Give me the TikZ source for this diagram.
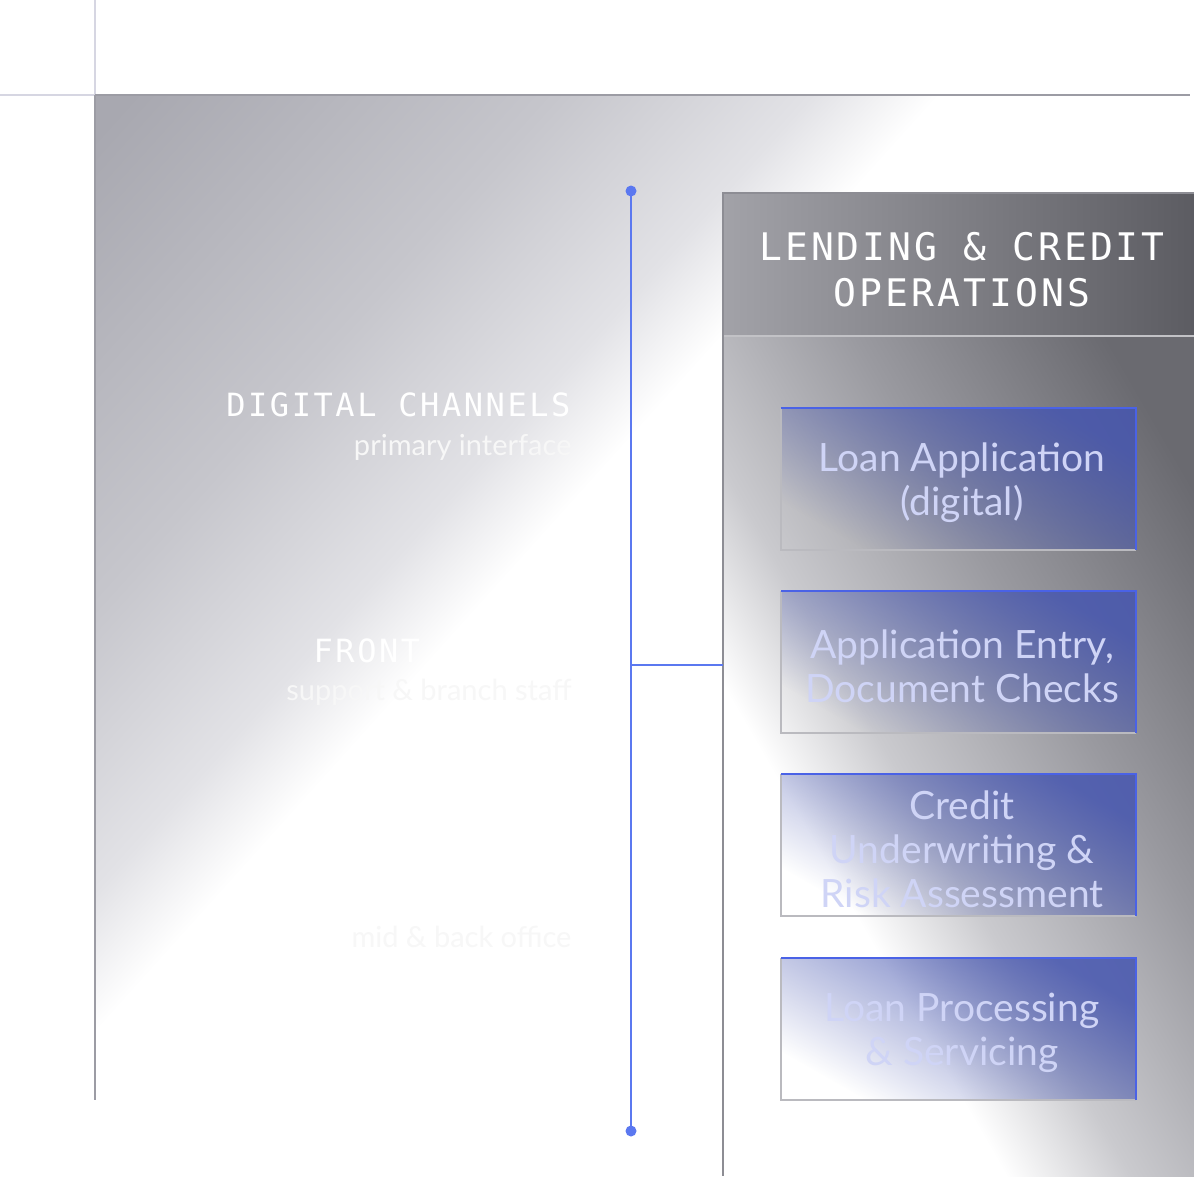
\documentclass[tikz,border=0pt]{standalone}
\usepackage{fontspec}
\setmainfont{Lato}
\newfontfamily\hdrfont[LetterSpace=8]{DejaVu Sans Mono}
\newfontfamily\lblfont[LetterSpace=8]{DejaVu Sans Mono}
\usetikzlibrary{fadings}
\definecolor{pgA}{HTML}{A8A8B0}
\definecolor{pgB}{HTML}{C6C6CC}
\definecolor{pgC}{HTML}{E2E2E6}
\definecolor{hdL}{HTML}{A2A2A8}
\definecolor{hdR}{HTML}{5C5C62}
\definecolor{bdA}{HTML}{6A6A70}
\definecolor{bdB}{HTML}{9A9AA0}
\definecolor{bdC}{HTML}{CACACE}
\definecolor{lineblue}{HTML}{5B78F0}
\definecolor{boxblue}{HTML}{4656B0}
\definecolor{boxedge}{HTML}{4A62E6}
\definecolor{boxtext}{HTML}{CFD4F6}
\definecolor{frameln}{HTML}{D6D6E2}
\definecolor{edgegray}{HTML}{9C9CA4}
\pgfdeclarehorizontalshading{panelsh}{100bp}{color(0bp)=(pgA); color(16bp)=(pgA); color(31bp)=(pgB); color(40bp)=(pgC); color(44.5bp)=(white); color(100bp)=(white)}
\pgfdeclarehorizontalshading{bodysh}{100bp}{color(0bp)=(white); color(36bp)=(white); color(45bp)=(bdC); color(60bp)=(bdB); color(78bp)=(bdA); color(100bp)=(bdA)}
\tikzfading[name=boxfade, left color=transparent!100, right color=transparent!15]
\tikzset{
  labelmain/.style={anchor=base east, text=white, font=\lblfont\fontsize{32}{32}\selectfont},
  labelsub/.style={anchor=base east, text=white!97!black, font=\fontsize{29}{29}\selectfont},
  stepbox/.style={minimum width=355pt, minimum height=142pt, inner sep=0pt},
  boxlabel/.style={text=boxtext, align=center, font=\fontsize{39}{44}\selectfont},
  dot/.style={circle, fill=lineblue, inner sep=0pt, minimum size=11pt},
}
\begin{document}
\begin{tikzpicture}[x=1pt,y=-1pt]
\useasboundingbox (0,0) rectangle (1194,1176);
\fill[white] (0,0) rectangle (1194,1176);
% panel
\shade[shading=panelsh, shading angle=-42] (95,95) rectangle (1190,1100);
\draw[frameln, line width=2pt] (0,95) -- (95,95);
\draw[frameln, line width=2pt] (95,0) -- (95,95);
\draw[edgegray, line width=2pt] (95,95) -- (1190,95);
\draw[edgegray, line width=2pt] (95,95) -- (95,1100);
% left labels
\node[labelmain] (dc) at (574,416) {DIGITAL CHANNELS};
\node[labelsub] (dcs) at (575,455) {primary interface};
\node[labelmain] (fo) at (574,662) {FRONT OFFICE};
\node[labelsub] (fos) at (575,700) {support \& branch staff};
\node[labelmain] (op) at (574,908) {OPERATIONS};
\node[labelsub] (ops) at (575,947) {mid \& back office};
% container
\shade[shading=bodysh, shading angle=30] (723,336) rectangle (1194,1176);
\shade[left color=hdL, right color=hdR] (723,193) rectangle (1194,336);
\draw[bdB!60!white, line width=1.5pt] (723,336) -- (1194,336);
\draw[edgegray!90!black, line width=2pt] (1194,193) -- (723,193) -- (723,1176);
\node[text=white, align=center, font=\hdrfont\fontsize{38}{46}\selectfont] (hdr) at (962,270) {LENDING \& CREDIT\\OPERATIONS};
% boxes
\foreach \n/\y/\t in {b1/408/{Loan Application\\(digital)}, b2/591/{Application Entry,\\Document Checks}, b3/774/{Credit\\Underwriting \&\\Risk Assessment}, b4/958/{Loan Processing\\\& Servicing}}{
  \fill[boxblue, path fading=boxfade, fading angle=35] (781,\y) rectangle (1136,\y+142);
  \node[stepbox] (\n) at (958.5,\y+71) {};
  \draw[edgegray!70!white, line width=1.5pt] (\n.north west) -- (\n.south west) -- (\n.south east);
  \draw[boxedge, line width=2pt] (\n.north west) -- (\n.north east) -- (\n.south east);
  \node[boxlabel] at (962,\y+75) {\t};
}
% connector line
\node[dot] (top) at (631,191) {};
\node[dot] (bot) at (631,1131) {};
\coordinate (j) at (631,665);
\draw[lineblue, line width=2pt] (top.center) -- (bot.center);
\draw[lineblue, line width=2pt] (j) -- (723,665);
\end{tikzpicture}
\end{document}
